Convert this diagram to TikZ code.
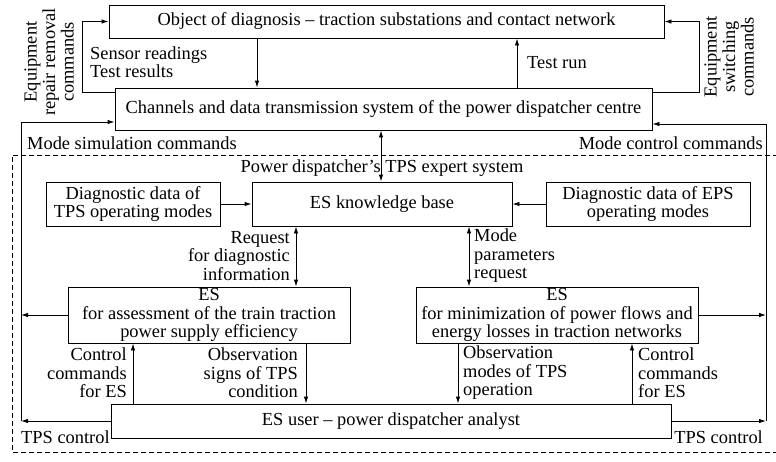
\documentclass[tikz,border=0pt]{standalone}
\usepackage{fontspec}
\setmainfont{Liberation Serif}
\usetikzlibrary{arrows.meta,calc}
\begin{document}
\begin{tikzpicture}[x=1pt,y=-1pt,
  font=\fontsize{18.4}{18.5}\selectfont,
  box/.style={draw,line width=0.9pt,inner sep=0pt,align=center},
  lbl/.style={inner sep=1pt},
  ln/.style={line width=0.9pt},
  arr/.style={ln,-{Latex[length=7pt,width=4.5pt]}},
  arrb/.style={ln,{Latex[length=7pt,width=4.5pt]}-{Latex[length=7pt,width=4.5pt]}},
]
\useasboundingbox (0,0) rectangle (776,461);
% boxes
\node[box,minimum width=555pt,minimum height=33pt] (obj) at (386.5,21.5) {Object of diagnosis -- traction substations and contact network};
\node[box,minimum width=537pt,minimum height=42pt] (chan) at (383.5,109) {Channels and data transmission system of the power dispatcher centre};
\node[box,minimum width=260pt,minimum height=44pt] (kb) at (382,204) {ES knowledge base};
\node[box,minimum width=174pt,minimum height=44pt] (dtps) at (133,204) {Diagnostic data of\\TPS operating modes};
\node[box,minimum width=204pt,minimum height=44pt] (deps) at (648,204) {Diagnostic data of EPS\\operating modes};
\node[box,minimum width=282pt,minimum height=56pt] (esa) at (209,315) {ES\\for assessment of the train traction\\power supply efficiency};
\node[box,minimum width=282pt,minimum height=56pt] (esm) at (557,315) {ES\\for minimization of power flows and\\energy losses in traction networks};
\node[box,minimum width=560pt,minimum height=34pt] (user) at (391,421) {ES user -- power dispatcher analyst};
% helper coordinates
\coordinate (xa) at (257,0);
\coordinate (xb) at (517,0);
\coordinate (xc) at (381,0);
\coordinate (xd) at (296,0);
\coordinate (xe) at (469,0);
\coordinate (xf) at (133,0);
\coordinate (xg) at (306,0);
\coordinate (xh) at (458,0);
\coordinate (xi) at (632,0);
\coordinate (lb) at (21,122);
\coordinate (rb) at (766,124);
% dashed frame
\draw[line width=0.6pt,dash pattern=on 5pt off 3pt] (778,155) -- (12,155) -- (12,452) -- (778,452);
% top connectors
\draw[arr] (obj.south -| xa) -- (chan.north -| xa);
\draw[arr] (chan.north -| xb) -- (obj.south -| xb);
\draw[arr] ($(chan.north west)+(0,5)$) -| ($(obj.west)+(-26,0)$) -- (obj.west);
\draw[arr] ($(chan.north east)+(0,5)$) -| ($(obj.east)+(35,0)$) -- (obj.east);
% buses
\draw[ln] (lb |- user.west) -- (lb);
\draw[arr] (lb) -- (lb -| chan.west);
\draw[arr] (esa.west) -- (esa.west -| lb);
\draw[arr] (user.west) -- (user.west -| lb);
\draw[ln] (rb |- user.east) -- (rb);
\draw[arr] (rb) -- (rb -| chan.east);
\draw[arr] (esm.east) -- (esm.east -| rb);
\draw[arr] (user.east) -- (user.east -| rb);
% middle connectors
\draw[arrb] (chan.south -| xc) -- (kb.north -| xc);
\draw[arr] (dtps.east) -- (kb.west);
\draw[arr] (deps.west) -- (kb.east);
\draw[arrb] (kb.south -| xd) -- (esa.north -| xd);
\draw[arrb] (kb.south -| xe) -- (esm.north -| xe);
% bottom connectors
\draw[arr] (user.north -| xf) -- (esa.south -| xf);
\draw[arr] (esa.south -| xg) -- (user.north -| xg);
\draw[arr] (esm.south -| xh) -- (user.north -| xh);
\draw[arr] (user.north -| xi) -- (esm.south -| xi);
% labels
\node[lbl,anchor=west,align=left] (l1) at (89,62) {Sensor readings\\Test results};
\node[lbl,anchor=west] (l2) at (526,63) {Test run};
\node[lbl,rotate=90,align=center] (l3) at (49,62) {Equipment\\repair removal\\commands};
\node[lbl,rotate=90,align=center] (l4) at (729,57) {Equipment\\switching\\commands};
\node[lbl,anchor=west] (l5) at (26,143) {Mode simulation commands};
\node[lbl,anchor=east] (l6) at (764,143) {Mode control commands};
\node[lbl] (l7) at (382,168) {Power dispatcher's TPS expert system};
\node[lbl,anchor=east,align=right] (l8) at (291,256) {Request\\for diagnostic\\information};
\node[lbl,anchor=west,align=left] (l9) at (473,256) {Mode\\parameters\\request};
\node[lbl,anchor=east,align=right] (l10) at (128,373) {Control\\commands\\for ES};
\node[lbl,anchor=east,align=right] (l11) at (299,373) {Observation\\signs of TPS\\condition};
\node[lbl,anchor=west,align=left] (l12) at (462,373) {Observation\\modes of TPS\\operation};
\node[lbl,anchor=west,align=left] (l13) at (637,373) {Control\\commands\\for ES};
\node[lbl,anchor=west] (l14) at (20,437) {TPS control};
\node[lbl,anchor=east] (l15) at (764,437) {TPS control};
\end{tikzpicture}
\end{document}
